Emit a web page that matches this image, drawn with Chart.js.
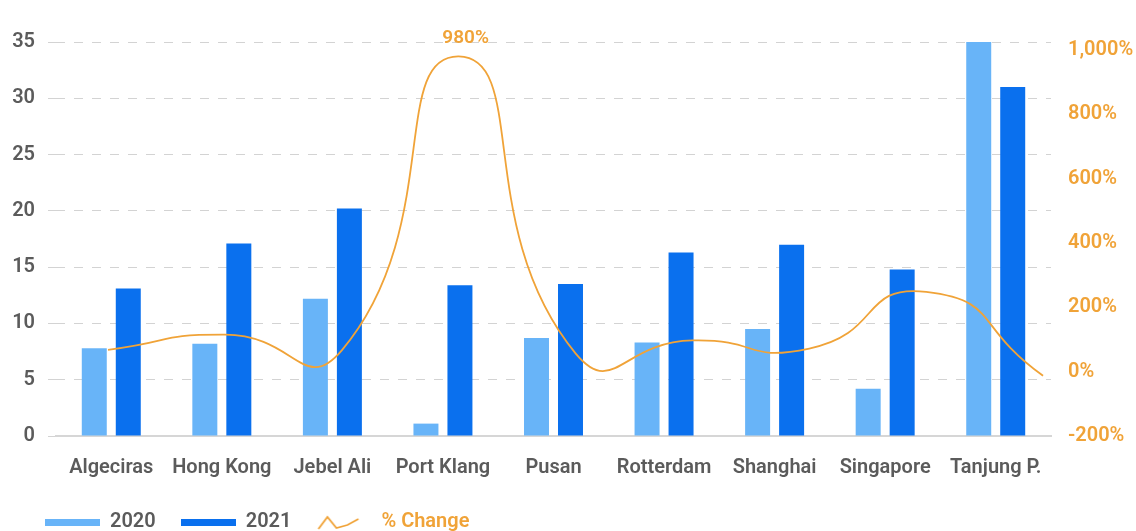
<!DOCTYPE html>
<html>
<head>
<meta charset="utf-8">
<script src="https://cdn.jsdelivr.net/npm/chart.js@4"></script>
<style>
  html, body { margin: 0; background: #fff; }
  #wrap { width: 1136px; height: 531px; }
</style>
</head>
<body>
<div id="wrap"><canvas id="grafico"></canvas></div>
<script>
const ports = ['Algeciras', 'Hong Kong', 'Jebel Ali', 'Port Klang', 'Pusan', 'Rotterdam', 'Shanghai', 'Singapore', 'Tanjung P.'];
const values2020 = [7.8, 8.2, 12.2, 1.1, 8.7, 8.3, 9.5, 4.2, 35.0];
const values2021 = [13.1, 17.1, 20.2, 13.4, 13.5, 16.3, 17.0, 14.8, 31.0];
const pctChange = [68, 115, 66, 980, 57, 97, 72, 248, -13];
const leftTicks = [0, 5, 10, 15, 20, 25, 30, 35];
const rightTicks = [-200, 0, 200, 400, 600, 800, 1000];

const light = '#68b4f8';
const dark = '#0a70ee';
const orange = '#f0a338';
const grey = '#5b5b5b';
const font = { family: 'Roboto', size: 20, weight: '600' };

// small canvases used as legend icons
function swatch(color) {
  const c = document.createElement('canvas');
  c.width = 55; c.height = 7;
  const g = c.getContext('2d');
  g.fillStyle = color;
  g.fillRect(0, 0, 55, 7);
  return c;
}
function zigzag() {
  const c = document.createElement('canvas');
  c.width = 55; c.height = 18;
  const g = c.getContext('2d');
  g.strokeStyle = orange;
  g.lineWidth = 1.8;
  g.beginPath();
  g.moveTo(2, 16); g.lineTo(11, 4); g.lineTo(20, 15); g.lineTo(31, 12); g.lineTo(42, 6);
  g.stroke();
  return c;
}
const icons = { '2020': swatch(light), '2021': swatch(dark), '% Change': zigzag() };

// label over the highest point of the % line
const peakLabel = {
  id: 'peakLabel',
  afterDatasetsDraw(chart) {
    const meta = chart.getDatasetMeta(0);
    const i = pctChange.indexOf(Math.max(...pctChange));
    const pt = meta.data[i];
    const ctx = chart.ctx;
    ctx.save();
    ctx.font = '600 19px Roboto';
    ctx.fillStyle = orange;
    ctx.textAlign = 'center';
    ctx.textBaseline = 'middle';
    ctx.fillText(pctChange[i] + '%', pt.x + 7, pt.y - 18);
    ctx.restore();
  }
};

// nudge the legend a little to the right of the axis labels
const legendShift = {
  id: 'legendShift',
  afterLayout(chart) {
    chart.legend.left += 8;
    chart.legend.right += 8;
  }
};

const ctx = document.getElementById('grafico').getContext('2d');

// the line comes first so the bar pair sits centred on each port
new Chart(ctx, {
  type: 'bar',
  data: {
    labels: ports,
    datasets: [
      {
        type: 'line',
        label: '% Change',
        data: pctChange.map((v, i) => ({ x: i, y: v })),
        borderColor: orange,
        borderWidth: 1.8,
        pointRadius: 0,
        tension: 0.6,
        xAxisID: 'xLine',
        yAxisID: 'y1',
        order: 1
      },
      {
        label: '2020',
        data: values2020,
        backgroundColor: light,
        categoryPercentage: 1.23,
        barPercentage: 0.735,
        xAxisID: 'x',
        yAxisID: 'y',
        order: 2
      },
      {
        label: '2021',
        data: values2021,
        backgroundColor: dark,
        categoryPercentage: 1.23,
        barPercentage: 0.735,
        xAxisID: 'x',
        yAxisID: 'y',
        order: 2
      }
    ]
  },
  options: {
    responsive: true,
    maintainAspectRatio: false,
    animation: false,
    layout: { padding: { left: 12, right: 0, top: 42, bottom: -11 } },
    plugins: {
      tooltip: { enabled: false },
      legend: {
        position: 'bottom',
        align: 'start',
        labels: {
          usePointStyle: true,
          pointStyleWidth: 55,
          padding: 25,
          font: { family: 'Roboto', size: 20, weight: '600', lineHeight: 1 },
          generateLabels(chart) {
            return [1, 2, 0].map(i => {
              const ds = chart.data.datasets[i];
              return {
                text: ds.label,
                fontColor: i === 0 ? orange : grey,
                pointStyle: icons[ds.label],
                fillStyle: 'transparent',
                strokeStyle: 'transparent',
                lineWidth: 0,
                datasetIndex: i
              };
            });
          }
        }
      }
    },
    scales: {
      x: {
        offset: true,
        grid: { display: false },
        border: { color: '#d6d6d6', width: 2 },
        ticks: { color: grey, padding: 12, font: font },
        afterFit(scale) { scale.height = 51; }
      },
      xLine: {
        type: 'linear',
        display: false,
        offset: false,
        min: -0.445,
        max: 8.068
      },
      y: {
        position: 'left',
        min: 0,
        max: 35,
        afterBuildTicks(scale) { scale.ticks = leftTicks.map(v => ({ value: v })); },
        afterFit(scale) { scale.width = 44; },
        grid: { color: '#d3d3d3', tickLength: 8 },
        border: { display: false, dash: [9, 9] },
        ticks: { color: grey, padding: 13, font: font }
      },
      y1: {
        position: 'right',
        min: -200,
        max: 1025,
        afterBuildTicks(scale) { scale.ticks = rightTicks.map(v => ({ value: v })); },
        afterFit(scale) { scale.width = 85; },
        grid: { display: false, drawTicks: false },
        border: { display: false },
        ticks: {
          color: orange,
          padding: 17,
          font: font,
          callback: v => v.toLocaleString('en-US') + '%'
        }
      }
    }
  },
  plugins: [peakLabel, legendShift]
});
</script>
</body>
</html>
